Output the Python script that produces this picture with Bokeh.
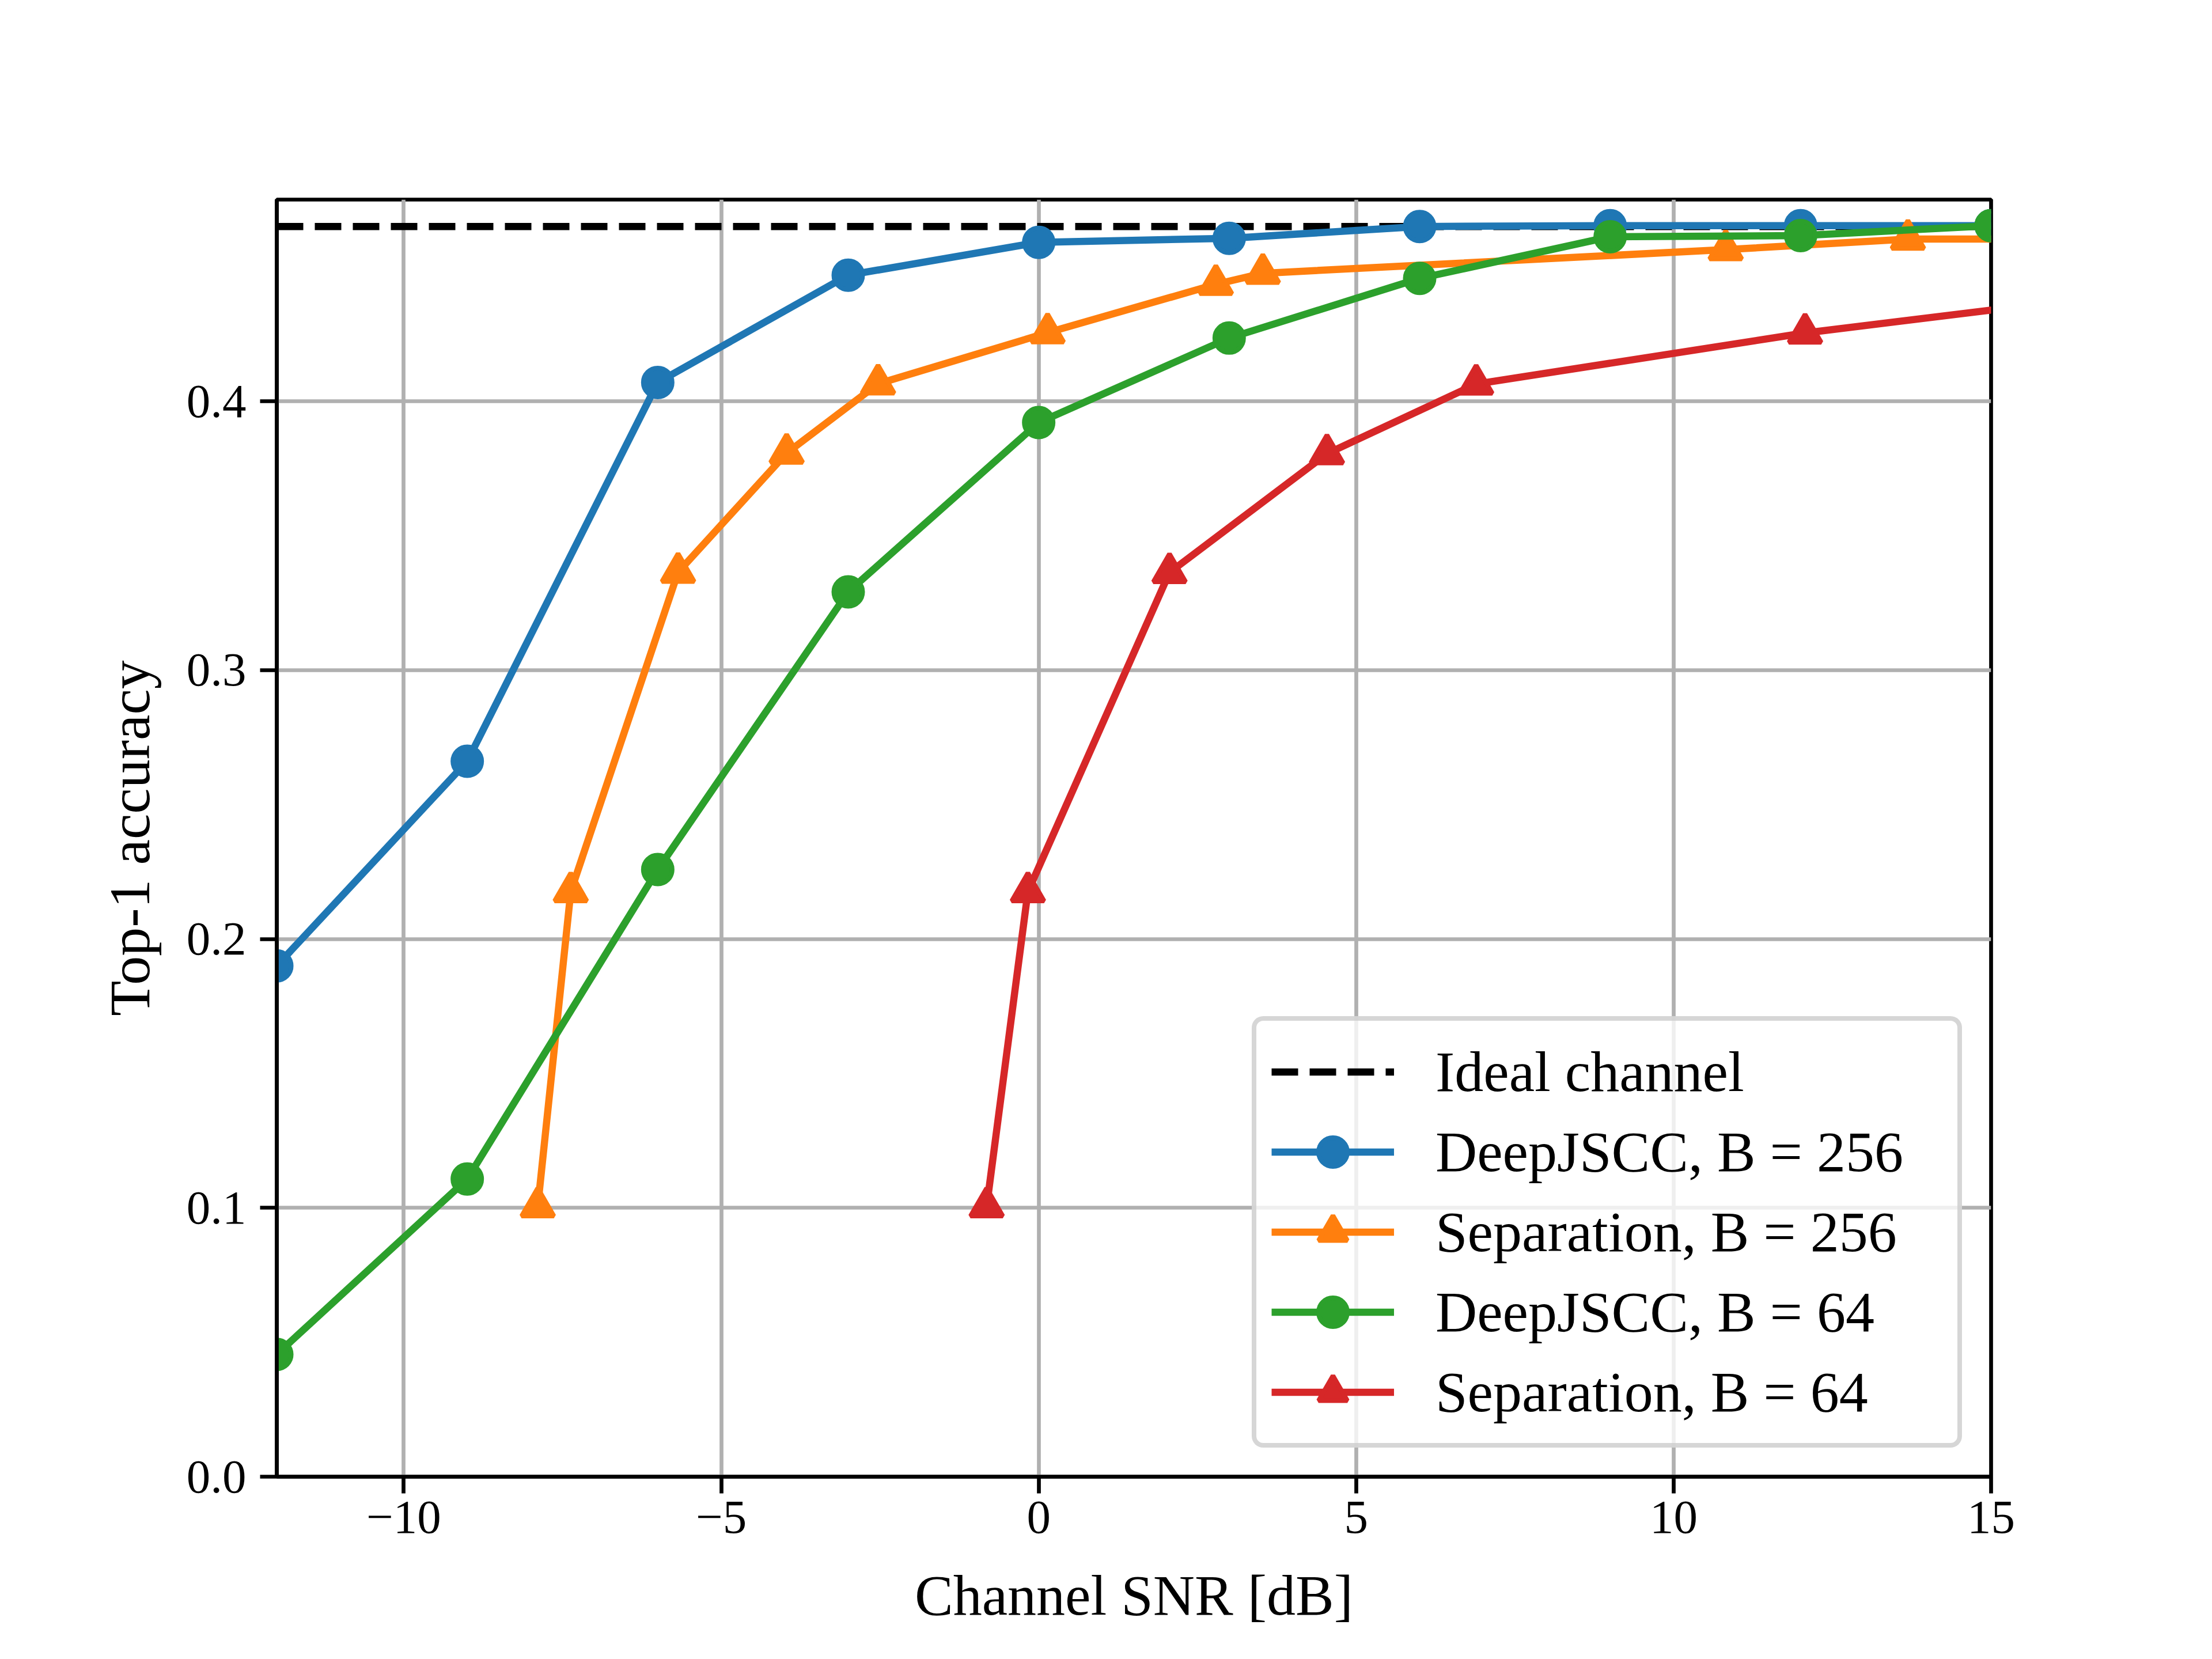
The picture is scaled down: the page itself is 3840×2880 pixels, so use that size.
from bokeh.plotting import figure
from bokeh.models import Range1d, FixedTicker
from bokeh.embed import file_html
from bokeh.resources import INLINE

# ---------------- data ----------------
snr_deepjscc = [-12, -9, -6, -3, 0, 3, 6, 9, 12, 15]
acc_deepjscc_256 = [0.1900, 0.2661, 0.4070, 0.4469, 0.4591, 0.4606, 0.4650, 0.4653, 0.4653, 0.4653]
acc_deepjscc_64 = [0.0455, 0.1107, 0.2258, 0.3291, 0.3921, 0.4235, 0.4457, 0.4612, 0.4616, 0.4653]

snr_sep_256 = [-7.89, -7.37, -5.68, -3.97, -2.53, 0.14, 2.79, 3.53, 10.82, 13.69, 16.5]
acc_sep_256 = [0.1004, 0.2176, 0.3364, 0.3807, 0.4065, 0.4255, 0.4435, 0.4476, 0.4564, 0.4603, 0.4603]

snr_sep_64 = [-0.82, -0.17, 2.06, 4.54, 6.89, 12.07, 18.0]
acc_sep_64 = [0.1004, 0.2176, 0.3363, 0.3805, 0.4064, 0.4254, 0.4426]

ideal_snr = [-12, 15]
ideal_acc = [0.465, 0.465]

x_ticks = [-10, -5, 0, 5, 10, 15]
x_tick_labels = ["\u221210", "\u22125", "0", "5", "10", "15"]
y_ticks = [0.0, 0.1, 0.2, 0.3, 0.4]
y_tick_labels = ["0.0", "0.1", "0.2", "0.3", "0.4"]

labels = ["Ideal channel", "DeepJSCC, B = 256", "Separation, B = 256",
          "DeepJSCC, B = 64", "Separation, B = 64"]
colors = ["#1f77b4", "#ff7f0e", "#2ca02c", "#d62728"]

FONT = "Liberation Serif"
LW = 12.5

p = figure(
    frame_width=2976, frame_height=2217,
    min_border_left=480, min_border_right=368,
    min_border_top=346, min_border_bottom=301,
    x_range=Range1d(-12, 15), y_range=Range1d(0, 0.475),
    output_backend="svg", toolbar_location=None,
    background_fill_color="white", border_fill_color="white",
)

# grid
p.grid.grid_line_color = "#b0b0b0"
p.grid.grid_line_width = 6.7

# axes
p.xaxis.ticker = FixedTicker(ticks=x_ticks)
p.yaxis.ticker = FixedTicker(ticks=y_ticks)
p.xaxis.major_label_overrides = dict(zip(x_ticks, x_tick_labels))
p.yaxis.major_label_overrides = dict(zip(y_ticks, y_tick_labels))
p.xaxis.axis_label = "Channel SNR [dB]"
p.yaxis.axis_label = "Top-1 accuracy"
for ax in (p.xaxis[0], p.yaxis[0]):
    ax.axis_line_color = "black"
    ax.axis_line_width = 6.7
    ax.major_tick_line_color = "black"
    ax.major_tick_line_width = 6.7
    ax.major_tick_out = 29
    ax.major_tick_in = 0
    ax.minor_tick_out = 0
    ax.minor_tick_in = 0
    ax.major_label_text_font = FONT
    ax.major_label_text_font_size = "83px"
    ax.major_label_text_color = "black"
    ax.axis_label_text_font = FONT
    ax.axis_label_text_font_size = "100px"
    ax.axis_label_text_font_style = "normal"
    ax.axis_label_text_color = "black"

p.xaxis.major_label_standoff = 14
p.xaxis.axis_label_standoff = 50
p.yaxis.major_label_standoff = 24
p.yaxis.axis_label_standoff = 40

p.outline_line_color = "black"
p.outline_line_width = 6.7
p.outline_line_alpha = 1.0

# ideal channel
p.line(ideal_snr, ideal_acc, line_color="black", line_width=LW,
       line_dash="46 20", legend_label=labels[0])

series = [
    (snr_deepjscc, acc_deepjscc_256, colors[0], "circle", 50, labels[1]),
    (snr_sep_256, acc_sep_256, colors[1], "triangle", 56, labels[2]),
    (snr_deepjscc, acc_deepjscc_64, colors[2], "circle", 50, labels[3]),
    (snr_sep_64, acc_sep_64, colors[3], "triangle", 56, labels[4]),
]
for xs, ys, c, mk, sz, lab in series:
    p.line(xs, ys, line_color=c, line_width=LW, legend_label=lab)
    p.scatter(xs, ys, marker=mk, size=sz, fill_color=c, line_color=c,
              line_width=8, legend_label=lab)

lg = p.legend[0]
lg.location = "bottom_right"
lg.margin = 50
lg.padding = 26
lg.spacing = 14
lg.glyph_width = 213
lg.glyph_height = 125
lg.label_height = 125
lg.label_width = 880
lg.label_standoff = 72
lg.label_text_font = FONT
lg.label_text_font_size = "100px"
lg.label_text_color = "black"
lg.border_line_color = "#cccccc"
lg.border_line_width = 8
lg.border_line_alpha = 0.8
lg.background_fill_color = "white"
lg.background_fill_alpha = 0.8
if "border_radius" in lg.properties():
    lg.border_radius = 20

open("out.html", "w").write(file_html(p, INLINE, title="Top-1 accuracy vs Channel SNR"))
